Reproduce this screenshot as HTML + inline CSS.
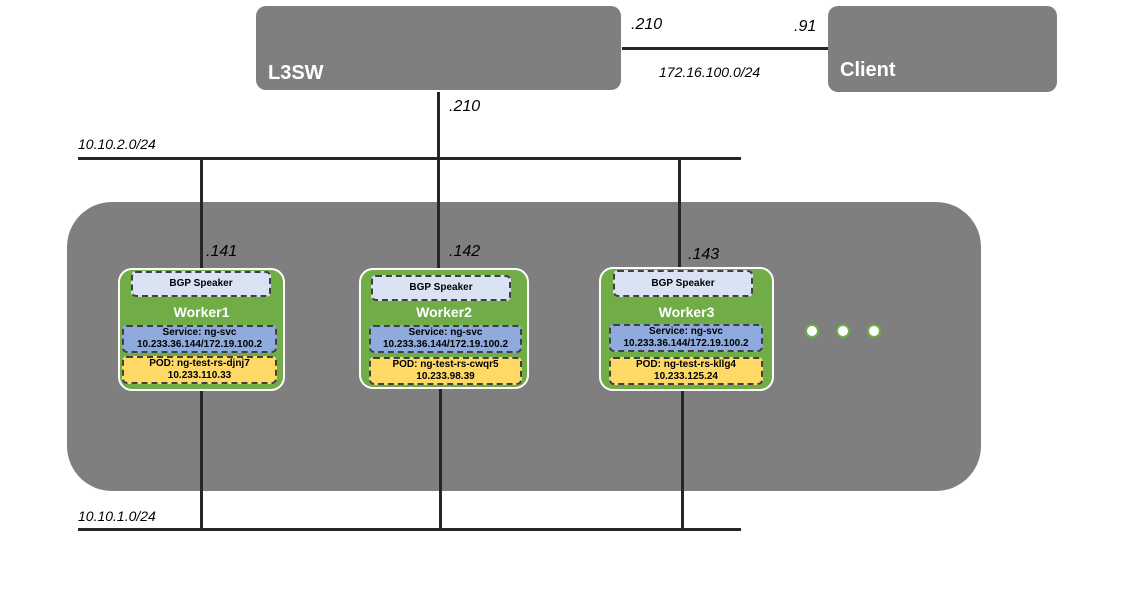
<!DOCTYPE html><html><head><style>
body{margin:0;width:1131px;height:603px;background:#fff;position:relative;overflow:hidden;font-family:"Liberation Sans",sans-serif}
.a{position:absolute;box-sizing:border-box}
.g{background:#7f7f7f}
.l{background:#262626}
.it{font-style:italic;font-size:16px;color:#000;font-weight:500}
.w{background:#70ad47;border:2px solid #fff;border-radius:14px}
.in{border:2px dashed #404040;border-radius:5px;font-size:10px;text-align:center;color:#000;line-height:12px;display:flex;flex-direction:column;justify-content:center;font-weight:600}
.bgp{background:#dae3f3}.svc{background:#8faadc}.pod{background:#ffd966}
.wl{color:#fff;font-weight:bold;font-size:14px;text-align:center}
.dot{width:14px;height:14px;border-radius:50%;background:#fff;border:2px solid #70ad47}
</style></head><body>
<div class="a g" style="left:256px;top:6px;width:365px;height:84px;border-radius:10px"></div>
<div class="a" style="left:268px;top:62px;color:#fff;font-weight:bold;font-size:20px">L3SW</div>
<div class="a g" style="left:828px;top:6px;width:229px;height:86px;border-radius:10px"></div>
<div class="a" style="left:840px;top:59px;color:#fff;font-weight:bold;font-size:20px">Client</div>
<div class="a l" style="left:622px;top:47px;width:206px;height:3px"></div>
<div class="a it" style="left:631px;top:16px">.210</div>
<div class="a it" style="left:794px;top:18px">.91</div>
<div class="a it" style="left:659px;top:64px;font-size:14px">172.16.100.0/24</div>
<div class="a g" style="left:67px;top:202px;width:914px;height:289px;border-radius:45px"></div>
<div class="a l" style="left:78px;top:157px;width:663px;height:3px"></div>
<div class="a l" style="left:78px;top:528px;width:663px;height:3px"></div>
<div class="a it" style="left:78px;top:136px;font-size:14px">10.10.2.0/24</div>
<div class="a it" style="left:78px;top:508px;font-size:14px">10.10.1.0/24</div>
<div class="a l" style="left:437px;top:92px;width:3px;height:180px"></div>
<div class="a l" style="left:439px;top:385px;width:3px;height:145px"></div>
<div class="a it" style="left:449px;top:98px">.210</div>
<div class="a l" style="left:200px;top:158px;width:3px;height:371px"></div>
<div class="a l" style="left:678px;top:160px;width:3px;height:110px"></div>
<div class="a l" style="left:681px;top:388px;width:3px;height:142px"></div>
<div class="a it" style="left:206px;top:243px">.141</div>
<div class="a it" style="left:449px;top:243px">.142</div>
<div class="a it" style="left:688px;top:246px">.143</div>

<div class="a w" style="left:118px;top:268px;width:167px;height:123px"></div>
<div class="a in bgp" style="left:131px;top:271px;width:140px;height:26px">BGP Speaker</div>
<div class="a wl" style="left:118px;top:304px;width:167px">Worker1</div>
<div class="a in svc" style="left:122px;top:325px;width:155px;height:28px"><span>Service: ng-svc</span><span>10.233.36.144/172.19.100.2</span></div>
<div class="a in pod" style="left:122px;top:356px;width:155px;height:28px"><span>POD: ng-test-rs-djnj7</span><span>10.233.110.33</span></div>

<div class="a w" style="left:359px;top:268px;width:170px;height:121px"></div>
<div class="a in bgp" style="left:371px;top:275px;width:140px;height:26px">BGP Speaker</div>
<div class="a wl" style="left:359px;top:304px;width:170px">Worker2</div>
<div class="a in svc" style="left:369px;top:325px;width:153px;height:28px"><span>Service: ng-svc</span><span>10.233.36.144/172.19.100.2</span></div>
<div class="a in pod" style="left:369px;top:357px;width:153px;height:28px"><span>POD: ng-test-rs-cwqr5</span><span>10.233.98.39</span></div>

<div class="a w" style="left:599px;top:267px;width:175px;height:124px"></div>
<div class="a in bgp" style="left:613px;top:270px;width:140px;height:27px">BGP Speaker</div>
<div class="a wl" style="left:599px;top:304px;width:175px">Worker3</div>
<div class="a in svc" style="left:609px;top:324px;width:154px;height:28px"><span>Service: ng-svc</span><span>10.233.36.144/172.19.100.2</span></div>
<div class="a in pod" style="left:609px;top:357px;width:154px;height:28px"><span>POD: ng-test-rs-kllg4</span><span>10.233.125.24</span></div>

<div class="a dot" style="left:805px;top:324px"></div>
<div class="a dot" style="left:836px;top:324px"></div>
<div class="a dot" style="left:867px;top:324px"></div>
</body></html>
